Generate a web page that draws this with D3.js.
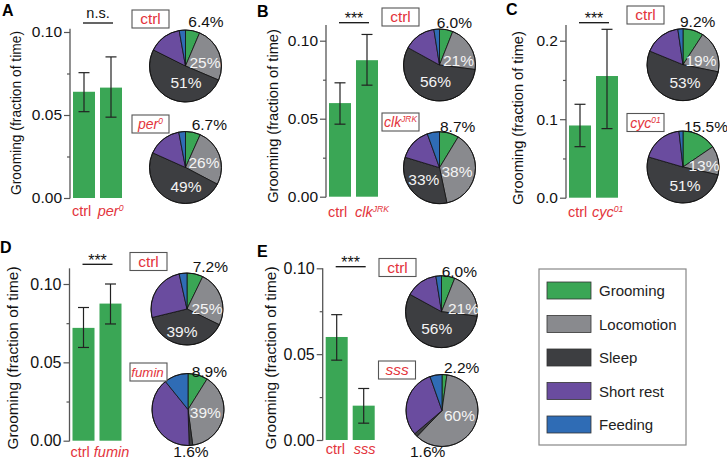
<!DOCTYPE html>
<html><head><meta charset="utf-8">
<script src="https://cdn.jsdelivr.net/npm/d3@7"></script>
<style>
body{margin:0;background:#fff;}
svg{display:block;font-family:"Liberation Sans",Arial,Helvetica,sans-serif;}
</style></head>
<body><svg id="c" width="727" height="461"></svg>
<script>
// ---------------- DATA ----------------
const panelLetters = ["A","B","C","D","E"];
const genotypeBase = [["ctrl","per"],["ctrl","clk"],["ctrl","cyc"],["ctrl","fumin"],["ctrl","sss"]];
const genotypeSup  = [["","0"],["","JRK"],["","01"],["",""],["",""]];
const groomMean = [[0.064,0.0665],[0.060,0.0875],[0.092,0.155],[0.072,0.0875],[0.060,0.020]];
const groomLow  = [[0.052,0.0487],[0.0465,0.0715],[0.065,0.088],[0.0595,0.0745],[0.0465,0.0098]];
const groomHigh = [[0.0755,0.085],[0.073,0.104],[0.119,0.2145],[0.085,0.100],[0.073,0.030]];
const significance = ["n.s.","***","***","***","***"];
const yTickValues = [[0,0.05,0.10],[0,0.05,0.10],[0,0.1,0.2],[0,0.05,0.10],[0,0.05,0.10]];
const yTickLabels = [["0.00","0.05","0.10"],["0.00","0.05","0.10"],["0.0","0.1","0.2"],["0.00","0.05","0.10"],["0.00","0.05","0.10"]];
const yMinorTicks = [[0.025,0.075],[0.025,0.075],[0.05,0.15],[0.025,0.075],[0.025,0.075]];
const yAxisTitle = "Grooming (fraction of time)";
const behaviours = ["Grooming","Locomotion","Sleep","Short rest","Feeding"];
// percent of time, per panel: [ctrl, mutant], slices in behaviour order
const pieCtrl   = [[6.4,25,51,14.8,2.8],[6.0,21,56,14.5,2.5],[9.2,19,53,16.5,2.3],[7.2,25,39,25.3,3.5],[6.0,21,56,14.5,2.5]];
const pieMutant = [[6.7,26,49,15.3,3.0],[8.7,38,33,14.8,5.5],[15.5,13,51,18.7,1.8],[8.9,39,1.6,39.7,10.8],[2.2,60,1.6,30.8,5.4]];

// ---------------- LAYOUT / STYLE ----------------
const colors = ["#3aa655","#898a8e","#3d3e41","#6a4c9f","#2f6cb5"];
const red = "#e3343c";
const layout = [
 {letter:[2,16], ax:70, y0:198, y1:32, axTop:0.102, title:[16,113,13.8], xlab:216, xlx:[-1,-2.3], sig:[23,-5], tickFs:15.5,
  pies:[{cx:185.5,cy:66,box:[132,10],labels:[[0,"o",2.8,-39.5],[1,"i",19.5,-3.5],[2,"i",0.5,16.5]]},
        {cx:185.5,cy:167.5,box:[132,115],labels:[[0,"o",6.2,-37.5],[1,"i",18.5,-5],[2,"i",0.5,19]]}]},
 {letter:[257,17], ax:326, y0:196.7, y1:40.7, axTop:0.11, title:[273,116,14.6], xlab:217, xlx:[-1,-1], sig:[22.7,1.3], tickFs:15.5,
  pies:[{cx:439.5,cy:65,box:[382,8],labels:[[0,"o",-2.8,-37],[1,"i",19,-5],[2,"i",-4,16]]},
        {cx:439.5,cy:167.7,box:[382,113],labels:[[0,"o",0.5,-36.2],[1,"i",17.5,4],[2,"i",-15.7,12.3]]}]},
 {letter:[506,15], ax:566, y0:197.7, y1:40.7, axTop:0.22, title:[518,118,14.6], xlab:217, xlx:[-1,-4], sig:[22.7,1.3], tickFs:15.5,
  pies:[{cx:683,cy:64.7,box:[627,6],labels:[[0,"o",-3,-38.2],[1,"i",18,-4],[2,"i",2,17.5]]},
        {cx:683,cy:167,box:[627,113.5],labels:[[0,"o",1,-35.5],[1,"i",21,-1.5],[2,"i",2,18.5]]}]},
 {letter:[0,253], ax:69.5, y0:440.7, y1:284, axTop:0.11, title:[12,358,15.4], xlab:456.5, xlx:[-2,-5.7], sig:[264.3,1.3], tickFs:16,
  pies:[{cx:187,cy:309,box:[130,252.5],labels:[[0,"o",5.7,-37.5],[1,"i",20,-0.7],[2,"i",-5,22.7]]},
        {cx:188,cy:409.5,box:[130,363],labels:[[0,"o",3.7,-33],[1,"i",17.3,3],[2,"o",-14.7,47]]}]},
 {letter:[257,257], ax:322.7, y0:440, y1:268.3, axTop:0.10, title:[270,358,15.4], xlab:454, xlx:[0,1], sig:[266.7,1.3], tickFs:16,
  pies:[{cx:441.5,cy:311.7,box:[379,258.5],labels:[[0,"o",0.2,-35.2],[1,"i",22,-3.4],[2,"i",-4.8,16.6]]},
        {cx:442,cy:410.5,box:[378.5,361],labels:[[0,"o",2,-37.5],[1,"i",17.5,4.5],[2,"o",-32,46]]}]}
];
const pieR = 36, boxW = 37, boxH = 18;

const svg = d3.select("#c");

function genotypeText(sel, base, sup, italic, fs){
  sel.append("tspan").text(base).attr("font-style", italic ? "italic" : "normal");
  if (sup) sel.append("tspan").text(sup).attr("font-style","italic")
     .attr("font-size", fs*0.6).attr("dy", -fs*0.36);
}

const pieGen = d3.pie().sort(null).value(d => d);
const arcGen = d3.arc().innerRadius(0).outerRadius(pieR);

layout.forEach((L, p) => {
  const g = svg.append("g");
  g.append("text").attr("x", L.letter[0]).attr("y", L.letter[1])
    .attr("font-size", 16).attr("font-weight", "bold").text(panelLetters[p]);

  const yMaxTick = yTickValues[p][yTickValues[p].length-1];
  const y = d3.scaleLinear().domain([0, yMaxTick]).range([L.y0, L.y1]);
  const x = d3.scaleBand().domain([0,1]).range([L.ax+3, L.ax+52]).paddingInner(0.185);

  g.selectAll("rect.bar").data(groomMean[p]).join("rect")
    .attr("x", (d,i) => x(i)).attr("width", x.bandwidth())
    .attr("y", d => y(d)).attr("height", d => y(0) - y(d))
    .attr("fill", colors[0]);

  const cap = 5.5;
  groomMean[p].forEach((m, i) => {
    const cx = x(i) + x.bandwidth()/2;
    const lo = groomLow[p][i], hi = groomHigh[p][i];
    g.append("line").attr("x1",cx).attr("x2",cx).attr("y1",y(lo)).attr("y2",y(hi))
      .attr("stroke","#222").attr("stroke-width",1.2);
    [lo,hi].forEach(v => g.append("line").attr("x1",cx-cap).attr("x2",cx+cap)
      .attr("y1",y(v)).attr("y2",y(v)).attr("stroke","#222").attr("stroke-width",1.2));
  });

  const axG = g.append("g").attr("transform",`translate(${L.ax},0)`);
  axG.call(d3.axisLeft(y).tickValues(yTickValues[p])
      .tickFormat((d,i) => yTickLabels[p][i]).tickSize(6).tickPadding(2));
  axG.select(".domain").remove();
  axG.selectAll(".tick line").attr("stroke","#555").attr("stroke-width",1.2);
  axG.selectAll(".tick text").attr("font-size", L.tickFs).attr("fill","#111")
     .attr("font-family","Liberation Sans, Arial, sans-serif");
  const mnG = g.append("g").attr("transform",`translate(${L.ax},0)`);
  mnG.call(d3.axisLeft(y).tickValues(yMinorTicks[p]).tickFormat("").tickSize(3));
  mnG.select(".domain").remove();
  mnG.selectAll(".tick line").attr("stroke","#555").attr("stroke-width",1.2);
  g.append("line").attr("x1",L.ax).attr("x2",L.ax).attr("y1",y(0)+0.6).attr("y2",y(L.axTop))
    .attr("stroke","#555").attr("stroke-width",1.3);

  g.append("text").attr("transform",`translate(${L.title[0]},${L.title[1]}) rotate(-90)`)
    .attr("text-anchor","middle").attr("dominant-baseline","central")
    .attr("font-size", L.title[2]).attr("fill","#111").text(yAxisTitle);

  genotypeBase[p].forEach((b, i) => {
    const t = g.append("text").attr("x", x(i) + L.xlx[i]).attr("y", L.xlab)
      .attr("text-anchor","start").attr("font-size",14.5).attr("fill",red);
    genotypeText(t, b, genotypeSup[p][i], i===1, 14.5);
  });

  const sx1 = x(0)+x.bandwidth()/2 - 1, sx2 = x(1)+x.bandwidth()/2 + 2;
  g.append("line").attr("x1",sx1).attr("x2",sx2).attr("y1",L.sig[0]).attr("y2",L.sig[0])
    .attr("stroke","#111").attr("stroke-width",1.3);
  const isNS = significance[p] === "n.s.";
  g.append("text").attr("x",(sx1+sx2)/2).attr("y",L.sig[0]+L.sig[1])
    .attr("text-anchor","middle").attr("font-size", isNS ? 14.5 : 16).attr("fill","#111")
    .text(significance[p]);

  [pieCtrl[p], pieMutant[p]].forEach((vals, k) => {
    const P = L.pies[k];
    const pg = g.append("g").attr("transform",`translate(${P.cx},${P.cy})`);
    pg.selectAll("path").data(pieGen(vals)).join("path")
      .attr("d", arcGen).attr("fill",(d,i)=>colors[i])
      .attr("stroke","#111").attr("stroke-width",0.8).attr("stroke-linejoin","round");
    pg.append("circle").attr("r",pieR).attr("fill","none").attr("stroke","#111").attr("stroke-width",0.9);
    P.labels.forEach(([si, kind, dx, dy]) => {
      const v = vals[si];
      if (kind === "i") {
        pg.append("text").attr("x",dx).attr("y",dy).attr("text-anchor","middle")
          .attr("dominant-baseline","central").attr("font-size",15.5).attr("fill","#f4f4f4")
          .text(d3.format(".0f")(v)+"%");
      } else {
        g.append("text").attr("x",P.cx+dx).attr("y",P.cy+dy).attr("font-size",15.5)
          .attr("fill","#111").text(v.toFixed(1)+"%");
      }
    });
    g.append("rect").attr("x",P.box[0]).attr("y",P.box[1]).attr("width",boxW).attr("height",boxH)
      .attr("fill","#fff").attr("stroke","#555").attr("stroke-width",1.1);
    const sup = genotypeSup[p][k];
    const fs = sup ? 14 : (genotypeBase[p][k].length > 4 ? 13.3 : 15.5);
    const t = g.append("text").attr("x",P.box[0]+boxW/2 - (k===1 && !sup && genotypeBase[p][k].length>4 ? 1 : 0))
      .attr("y",P.box[1]+boxH/2+5.2)
      .attr("text-anchor","middle").attr("font-size",fs).attr("fill",red);
    genotypeText(t, genotypeBase[p][k], sup, k===1, fs);
  });
});

const lg = svg.append("g");
lg.append("rect").attr("x",539).attr("y",269).attr("width",147).attr("height",176)
  .attr("fill","#fff").attr("stroke","#888").attr("stroke-width",1.2);
const ly = d3.scalePoint().domain(behaviours).range([290.5,424.5]);
lg.selectAll("rect.sw").data(behaviours).join("rect").attr("class","sw")
  .attr("x",547).attr("y",d=>ly(d)-8.5).attr("width",44).attr("height",17)
  .attr("fill",(d,i)=>colors[i]).attr("stroke","#333").attr("stroke-width",0.8);
lg.selectAll("text").data(behaviours).join("text")
  .attr("x",599).attr("y",d=>ly(d)).attr("dominant-baseline","central")
  .attr("font-size",15).attr("fill","#222").text(d=>d);
</script></body></html>
